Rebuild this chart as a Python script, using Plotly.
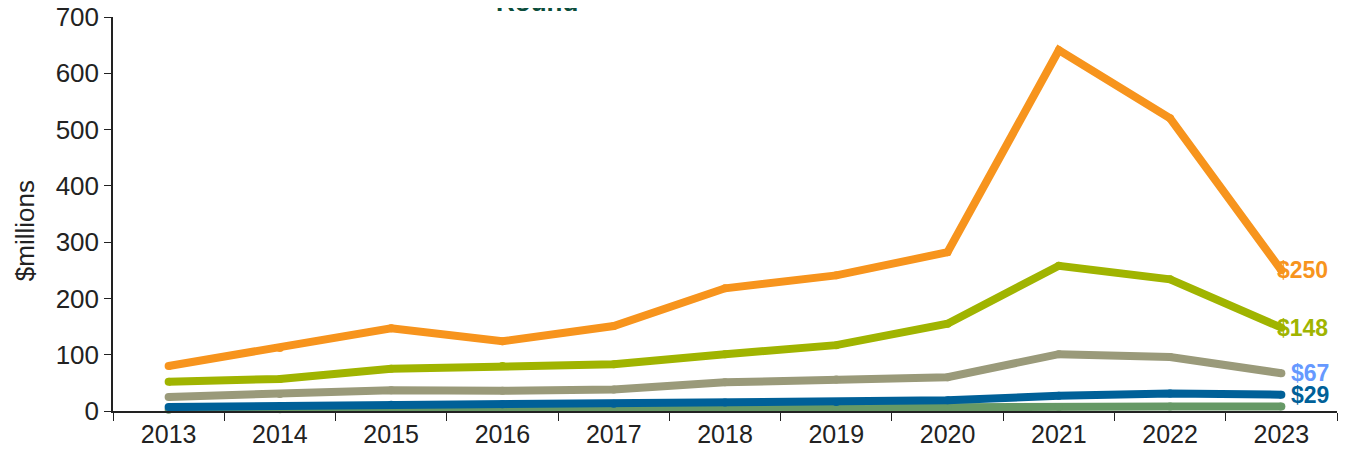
import plotly.graph_objects as go

years = ["2013", "2014", "2015", "2016", "2017", "2018", "2019", "2020", "2021", "2022", "2023"]
orange_vals = [80, 112, 147, 124, 151, 218, 241, 282, 641, 520, 250]
lime_vals = [52, 57, 75, 80, 83, 101, 117, 155, 258, 234, 148]
gray_vals = [25, 30, 37, 36, 38, 51, 56, 60, 101, 96, 67]
blue_vals = [7, 9, 11, 12, 13, 15, 16, 19, 27, 31, 29]
green_vals = [2, 3, 4, 4, 5, 5, 6, 6, 7, 8, 8]

FONT = "Liberation Sans, Arial, sans-serif"

fig = go.Figure()
series = [
    (green_vals, "#669966"),
    (blue_vals, "#006098"),
    (gray_vals, "#9a9a7a"),
    (lime_vals, "#a0b400"),
    (orange_vals, "#f7941d"),
]
for vals, col in series:
    fig.add_trace(go.Scatter(x=years, y=vals, mode="lines+markers",
                             line=dict(color=col, width=8),
                             marker=dict(color=col, size=8, line=dict(width=0)),
                             showlegend=False, cliponaxis=False))

labels = [
    (orange_vals[-1], "#f7941d", -6),
    (lime_vals[-1], "#a0b400", -6),
    (gray_vals[-1], "#6699ff", 8),
    (blue_vals[-1], "#006098", 8),
]
last_idx = len(years) - 1
for v, col, xs in labels:
    fig.add_annotation(x=last_idx, y=v, xref="x", yref="y", text=f"<b>${v}</b>",
                       showarrow=False, xanchor="left", yanchor="middle", xshift=xs,
                       font=dict(family=FONT, size=23, color=col))

fig.add_annotation(x=0.3465, y=1.0, xref="paper", yref="paper", text="<b>Round</b>",
                   showarrow=False, xanchor="center", yanchor="bottom", yshift=-2,
                   font=dict(family=FONT, size=26, color="#0b4d3b"))

# y-axis title placed as a rotated annotation
fig.add_annotation(x=-0.0719, y=0.459, xref="paper", yref="paper", text="$millions",
                   showarrow=False, textangle=-90, xanchor="center", yanchor="middle",
                   font=dict(family=FONT, size=26, color="#222222"))

# page body has an 8px margin, so the figure is shrunk and margins offset by 8px
fig.update_layout(
    width=1342, height=441,
    margin=dict(l=105, r=13, t=9, b=38, autoexpand=False),
    paper_bgcolor="white", plot_bgcolor="white",
    font=dict(family=FONT, size=26, color="#222222"),
)
fig.update_xaxes(type="category", range=[-0.5, 10.5], showline=True, linecolor="#222222",
                 linewidth=1.5, ticks="outside", tickson="boundaries", ticklen=8,
                 tickcolor="#222222", showgrid=False, tickfont=dict(size=25),
                 automargin=False, ticklabeloverflow="allow")
fig.update_yaxes(range=[0, 700], dtick=100, showline=True, linecolor="#222222",
                 linewidth=1.5, ticks="outside", ticklen=7, tickcolor="#222222",
                 showgrid=False, zeroline=False, tickfont=dict(size=26), automargin=False,
                 ticklabeloverflow="allow")

fig.write_html("out.html")
